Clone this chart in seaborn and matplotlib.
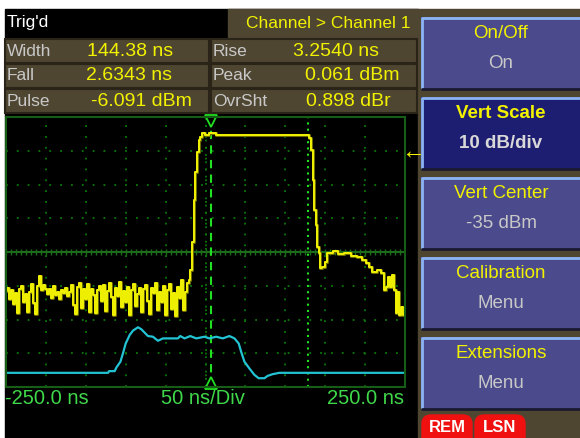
import matplotlib
matplotlib.use("Agg")
import matplotlib.pyplot as plt
from matplotlib.patches import Rectangle, FancyBboxPatch
import matplotlib.patheffects as pe
import seaborn as sns
import pandas as pd
import numpy as np

# ---- data (time in ns, level in dBm) ----
noise_time = np.arange(-250, -20, 2.5)
noise_level = [-46.5, -45.8, -48.9, -46.2, -50.4, -47.1, -53.2, -46.0, -45.2, -49.8,
               -47.3, -52.9, -46.8, -44.6, -50.1, -53.4, -45.0, -42.1, -46.3, -44.8,
               -45.9, -47.4, -46.1, -48.6, -45.2, -47.7, -46.8, -48.9, -46.4, -47.2,
               -45.6, -48.1, -46.9, -44.7, -50.8, -53.5, -45.5, -44.3, -51.6, -46.1,
               -48.9, -44.5, -52.7, -45.9, -47.8, -53.1, -46.4, -45.1, -49.6, -44.9,
               -52.4, -46.7, -44.2, -48.3, -53.6, -45.8, -47.9, -44.0, -51.2, -46.5,
               -49.7, -45.3, -53.8, -46.2, -44.6, -50.9, -47.4, -45.7, -52.8, -46.0,
               -44.8, -49.4, -53.3, -45.6, -47.1, -44.3, -52.1, -46.8, -49.9, -45.2,
               -53.7, -46.3, -44.5, -51.8, -47.0, -53.9, -45.4, -48.6, -43.2, -52.3,
               -46.9, -44.1]

pulse_time = [-20.0, -17.9, -15.9, -13.8, -11.6, -9.6, -7.5, -5.4, -3.4, 0.9, 8.8, 17.5,
              127.9, 132.1, 133.4, 135.0, 137.1, 139.1, 141.3, 143.4, 144.6, 147.5,
              150.9, 152.9, 157.1, 162.5, 169.6, 177.9, 186.3, 192.5, 198.8, 202.9,
              207.1, 211.3, 217.5, 221.6, 225.0, 227.9, 230.0, 232.1, 235.0, 237.5,
              239.1, 241.6, 243.8, 246.6, 248.8]
pulse_level = [-43.3, -40.3, -31.9, -19.6, -11.2, -5.3, -1.8, -0.8, 0.2, -0.3, 0.2, -0.3,
               -0.3, -1.2, -4.8, -13.7, -22.6, -27.0, -33.4, -35.3, -39.8, -39.4,
               -37.9, -35.4, -35.2, -34.7, -35.6, -35.2, -36.1, -36.4, -37.4, -38.2,
               -39.4, -40.8, -40.3, -41.2, -46.3, -45.3, -42.3, -45.3, -41.8, -46.3,
               -53.2, -46.8, -53.7, -51.2, -53.7]

cyan_time = [-250.0, -122.1, -120.9, -113.8, -111.6, -106.6, -103.4, -100.0, -95.0, -90.9,
             -84.6, -80.4, -72.1, -65.9, -59.6, -53.4, -34.6, -31.6, -26.3, -19.1,
             -11.6, -1.3, 5.0, 13.4, 21.6, 30.0, 36.3, 41.6, 44.6, 48.8,
             55.0, 61.3, 66.6, 73.8, 77.9, 84.1, 92.5, 250.0]
cyan_level = [-70.8, -70.8, -70.3, -70.3, -69.2, -67.5, -65.0, -62.1, -59.6, -58.3,
              -57.3, -57.9, -59.9, -60.1, -61.3, -60.6, -60.6, -59.9, -60.6, -59.9,
              -60.6, -60.1, -60.6, -60.1, -60.6, -59.9, -60.6, -62.1, -64.5, -67.5,
              -69.5, -71.4, -72.4, -72.4, -71.7, -71.2, -70.8, -70.8]

vert_center = -35
vert_scale = 10
time_span = 250
cursor_trig = 7.5
cursor_2 = 128

measure_rows = [("Width", "144.38 ns", "Rise", "3.2540 ns"),
                ("Fall", "2.6343 ns", "Peak", "0.061 dBm"),
                ("Pulse", "-6.091 dBm", "OvrSht", "0.898 dBr")]
buttons = [("On/Off", "On"), ("Vert Scale", "10 dB/div"), ("Vert Center", "-35 dBm"),
           ("Calibration", "Menu"), ("Extensions", "Menu")]

yellow_df = pd.DataFrame({"time": list(noise_time) + pulse_time,
                          "level": noise_level + pulse_level})
cyan_df = pd.DataFrame({"time": cyan_time, "level": cyan_level})

sns.set_style("dark", {"axes.facecolor": "black"})
plt.rcParams["font.family"] = ["Liberation Sans", "DejaVu Sans"]

YEL = "#f2f200"
GRY = "#c8c8c8"
OLIVE = "#4f4632"
GRN = "#3fd84a"

fig = plt.figure(figsize=(5.8, 4.38), dpi=100)
fig.patch.set_facecolor("white")

# background canvas in pixel coords
bg = fig.add_axes([0, 0, 1, 1])
bg.set_xlim(0, 580)
bg.set_ylim(438, 0)
bg.axis("off")
bg.add_patch(Rectangle((5, 9), 413, 429, color="black"))
bg.add_patch(Rectangle((418, 9), 162, 429, color=OLIVE))

# header
bg.text(7, 23, "Trig'd", color="white", fontsize=12.5, va="center")
bg.add_patch(Rectangle((228, 9), 190, 28, color=OLIVE))
bg.text(411, 23, "Channel > Channel 1", color=YEL, fontsize=12.5, va="center", ha="right")

# measurement table
val_x = [87, 86, 91]
val2_x = [293, 305, 306]
for i, (l1, v1, l2, v2) in enumerate(measure_rows):
    y0 = 39 + i * 25
    bg.add_patch(Rectangle((5, y0), 204, 24, facecolor=OLIVE, edgecolor="#2a2418", lw=1.5))
    bg.add_patch(Rectangle((211, y0), 206, 24, facecolor=OLIVE, edgecolor="#2a2418", lw=1.5))
    yc = y0 + 12
    bg.text(7, yc, l1, color=GRY, fontsize=12.5, va="center")
    bg.text(val_x[i], yc, v1, color=YEL, fontsize=14, va="center")
    bg.text(213, yc, l2, color=GRY, fontsize=12.5, va="center")
    bg.text(val2_x[i], yc, v2, color=YEL, fontsize=14, va="center")

# soft keys
for i, (top, bottom) in enumerate(buttons):
    y0 = 17 + i * 80
    sel = (i == 1)
    bg.add_patch(Rectangle((421, y0), 160, 72, facecolor="#1d1d72" if sel else "#4a4a8c",
                           edgecolor="none"))
    bg.plot([422, 422, 580], [y0 + 71, y0 + 1, y0 + 1], color="#8cb4f4", lw=2)
    bg.plot([422, 580], [y0 + 72, y0 + 72], color="#1a1a30", lw=2)
    w = "bold" if sel else "normal"
    bg.text(501, y0 + 17, top, color=YEL, fontsize=13.5, ha="center", va="center", weight=w)
    bg.text(501, y0 + 46, bottom, color="#d8d8d8" if sel else GRY, fontsize=13.5,
            ha="center", va="center", weight=w)

# REM / LSN badges
for x0, lab in [(420, "REM"), (473, "LSN")]:
    bg.add_patch(FancyBboxPatch((x0 + 4, 417), 46, 30, boxstyle="round,pad=2,rounding_size=9",
                                color="#f01010"))
    bg.text(x0 + 27, 428, lab, color="white", fontsize=12, weight="bold", ha="center", va="center")

# x-axis annotations
bg.text(5, 399, "-250.0 ns", color=GRN, fontsize=14.5, va="center")
bg.text(203, 399, "50 ns/Div", color=GRN, fontsize=14.5, va="center", ha="center")
bg.text(404, 399, "250.0 ns", color=GRN, fontsize=14.5, va="center", ha="right")
bg.text(413, 152, "\u2190", color=YEL, fontsize=17, va="center", ha="center")

# scope trace area
ax = fig.add_axes([6 / 580, (438 - 387) / 438, 399 / 580, 270 / 438])
ax.set_facecolor("black")
top = vert_center + 4 * vert_scale
bot = vert_center - 4 * vert_scale
ax.set_xlim(-time_span, time_span)
ax.set_ylim(bot, top)
ax.set_xticks(np.arange(-200, 201, 50))
ax.set_yticks(np.arange(bot + vert_scale, top, vert_scale))
ax.tick_params(length=0, labelbottom=False, labelleft=False)
ax.grid(True, color="#0b7a0b", linestyle=(0, (1, 5)), lw=1.3)
for s in ax.spines.values():
    s.set_color("#165e16")
    s.set_linewidth(1.5)
ax.axhline(vert_center, color="#1c6c1c", lw=1.5)
ax.plot(np.arange(-250, 251, 6.25), np.full(81, vert_center), ls="none", marker="|",
        color="#1c6c1c", ms=4)
ax.axvline(0, color="#0b7a0b", ls=(0, (1, 3)), lw=1.3)

ax.axvline(cursor_trig, color="#22e022", ls=(0, (4, 3)), lw=1.5)
ax.axvline(cursor_2, color="#22e022", ls=(0, (1, 2)), lw=1.5)

sns.lineplot(data=cyan_df, x="time", y="level", color="#22c4d4", lw=1.6,
             estimator=None, sort=False, ax=ax)
sns.lineplot(data=yellow_df, x="time", y="level", color=YEL, lw=1.4,
             estimator=None, sort=False, drawstyle="steps-mid", ax=ax,
             path_effects=[pe.Stroke(linewidth=2.2, foreground="#6b6b00"), pe.Normal()])
ax.set_xlabel("")
ax.set_ylabel("")

# trigger markers
ax.plot([cursor_trig], [top - 1.2], marker="v", ms=9, mfc="black", mec="#22e022",
        mew=1.3, clip_on=False)
ax.plot([cursor_trig], [bot + 1.2], marker="^", ms=9, mfc="black", mec="#22e022",
        mew=1.3, clip_on=False)

fig.savefig("out.png", dpi=100, facecolor=fig.get_facecolor())
